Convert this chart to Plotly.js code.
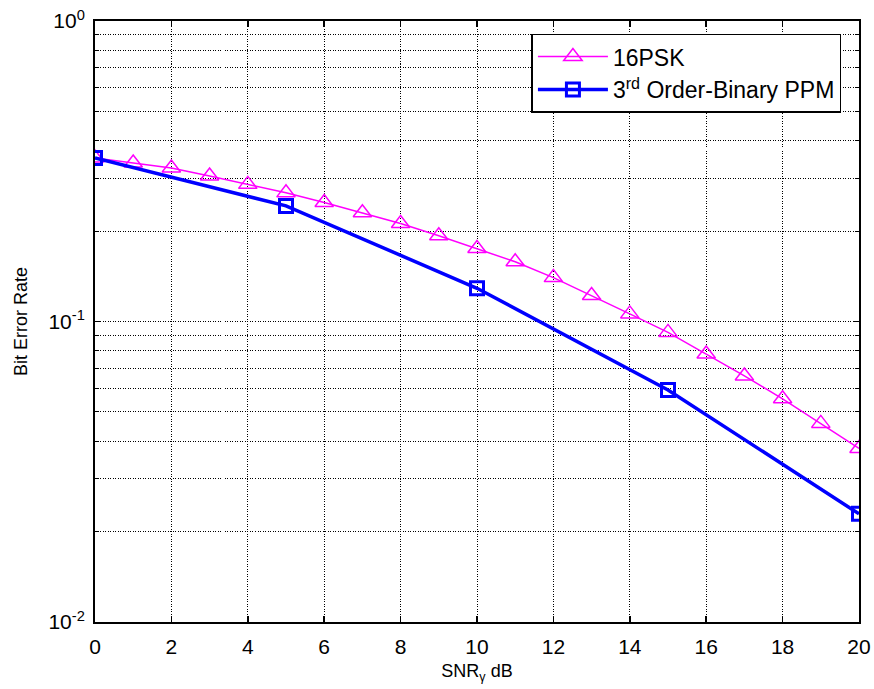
<!DOCTYPE html>
<html>
<head>
<meta charset="utf-8">
<script src="https://cdn.plot.ly/plotly-3.0.1.min.js"></script>
<style>
  html, body { margin: 0; padding: 0; background: #fff; }
  #chart { width: 874px; height: 689px; }
</style>
</head>
<body>
<div id="chart"></div>
<script>
// SNR axis (dB)
const snrPsk = [0, 1, 2, 3, 4, 5, 6, 7, 8, 9, 10, 11, 12, 13, 14, 15, 16, 17, 18, 19, 20];
const berPsk = [0.350, 0.337, 0.324, 0.305, 0.286, 0.268, 0.249, 0.230, 0.212, 0.193, 0.175,
                0.158, 0.140, 0.122, 0.106, 0.092, 0.078, 0.0659, 0.0553, 0.0458, 0.0378];

const snrPpm = [0, 5, 10, 15, 20];
const berPpm = [0.350, 0.2425, 0.129, 0.0592, 0.0229];

const yTickVals = [0.01, 0.1, 1];
const yTickText = ['10<sup>-2</sup>', '10<sup>-1</sup>', '10<sup>0</sup>'];

// minor decades 2..9 for the log grid
const yMinorVals = [];
[0.01, 0.1].forEach(d => { for (let k = 2; k <= 9; k++) yMinorVals.push(+(k * d).toPrecision(3)); });

const FONT = 'Liberation Sans, Arial, Helvetica, sans-serif';
const DOT = '1px,1.5px';

const traces = [
  {
    x: snrPsk, y: berPsk, name: '16PSK', type: 'scatter', mode: 'lines+markers',
    line: { color: '#ff00ff', width: 1.5 },
    marker: { symbol: 'triangle-up-open', size: 16, color: '#ff00ff', line: { color: '#ff00ff', width: 1.5 } }
  },
  {
    x: snrPpm, y: berPpm, name: '3<sup>rd</sup> Order-Binary PPM', type: 'scatter', mode: 'lines+markers',
    line: { color: '#0000ff', width: 3.5 },
    marker: { symbol: 'square-open', size: 13, color: '#0000ff', line: { color: '#0000ff', width: 3 } }
  }
];

const layout = {
  width: 874, height: 689,
  paper_bgcolor: '#fff', plot_bgcolor: '#fff',
  margin: { l: 94.5, r: 15, t: 20.5, b: 66.5 },
  font: { family: FONT, color: '#000', size: 20 },
  showlegend: true,
  legend: {
    x: 0.977, y: 0.979, xanchor: 'right', yanchor: 'top',
    bgcolor: '#fff', bordercolor: '#000', borderwidth: 1.5,
    font: { family: FONT, size: 23, color: '#000' },
    itemwidth: 70
  },
  xaxis: {
    range: [0, 20], dtick: 2, tick0: 0,
    showline: true, linecolor: '#000', linewidth: 2, mirror: 'allticks',
    ticks: 'inside', ticklen: 6, tickcolor: '#000', tickwidth: 1.5,
    showgrid: true, gridcolor: '#000', gridwidth: 1, griddash: DOT,
    zeroline: false,
    ticklabelstandoff: 5,
    tickfont: { family: FONT, size: 21 },
    title: { text: 'SNR<sub>γ</sub> dB', font: { family: FONT, size: 18 }, standoff: 7 }
  },
  yaxis: {
    type: 'log', range: [-2, 0],
    tickmode: 'array', tickvals: yTickVals, ticktext: yTickText,
    showline: true, linecolor: '#000', linewidth: 2, mirror: 'allticks',
    ticks: 'inside', ticklen: 6, tickcolor: '#000', tickwidth: 1.5,
    showgrid: true, gridcolor: '#000', gridwidth: 1, griddash: DOT,
    zeroline: false,
    ticklabelstandoff: 4,
    tickfont: { family: FONT, size: 21 },
    minor: {
      tickmode: 'array', tickvals: yMinorVals,
      ticks: 'inside', ticklen: 4, tickcolor: '#000', tickwidth: 1,
      showgrid: true, gridcolor: '#000', gridwidth: 1, griddash: DOT
    },
    title: { text: 'Bit Error Rate', font: { family: FONT, size: 18 }, standoff: 16 }
  }
};

Plotly.newPlot('chart', traces, layout, { displayModeBar: false, staticPlot: true });
</script>
</body>
</html>
